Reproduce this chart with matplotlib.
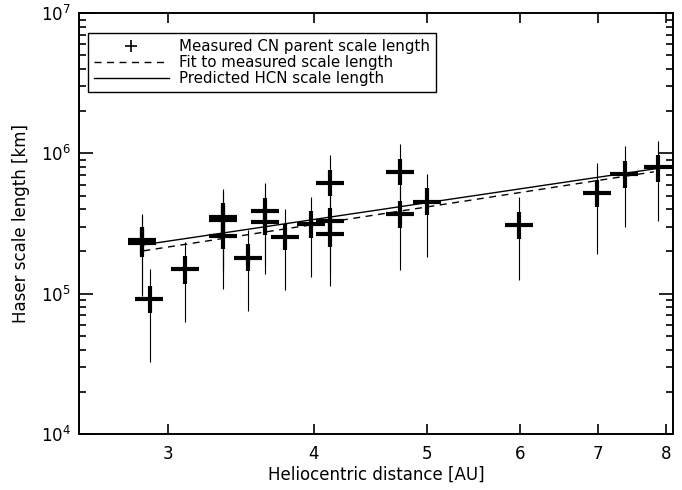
import matplotlib
matplotlib.use("Agg")
import matplotlib.pyplot as plt
import matplotlib.ticker as mticker
from matplotlib.lines import Line2D
import numpy as np

# heliocentric distance [AU] and Haser scale length [km]
r_au = [2.854, 2.854, 2.896, 3.104, 3.344, 3.344, 3.344, 3.513, 3.632, 3.632, 3.783,
        3.979, 4.130, 4.130, 4.130, 4.739, 4.739, 4.997, 5.99, 6.987, 7.373, 7.876]
scale_km = [2.40e5, 2.30e5, 9.1e4, 1.49e5, 3.52e5, 3.35e5, 2.57e5, 1.81e5, 3.88e5, 3.26e5, 2.55e5,
            3.15e5, 6.15e5, 3.29e5, 2.68e5, 7.37e5, 3.71e5, 4.51e5, 3.09e5, 5.23e5, 7.18e5, 7.96e5]
# outer (thin) error range
thin_lo = [1.0e5, 9.7e4, 3.26e4, 6.25e4, 1.5e5, 1.4e5, 1.08e5, 7.57e4, 1.6e5, 1.38e5, 1.07e5,
           1.31e5, 2.6e5, 1.4e5, 1.14e5, 3.1e5, 1.48e5, 1.83e5, 1.25e5, 1.93e5, 3.0e5, 3.30e5]
thin_hi = [3.71e5, 3.55e5, 1.50e5, 2.34e5, 5.56e5, 5.3e5, 4.0e5, 2.83e5, 6.13e5, 5.1e5, 3.99e5,
           4.90e5, 9.7e5, 5.2e5, 4.2e5, 1.16e6, 5.9e5, 7.13e5, 4.88e5, 8.49e5, 1.12e6, 1.23e6]
# inner (thick) error range
thick_lo = [1.92e5, 1.84e5, 7.3e4, 1.18e5, 2.82e5, 2.69e5, 2.08e5, 1.44e5, 3.1e5, 2.61e5, 2.04e5,
            2.51e5, 4.95e5, 2.64e5, 2.15e5, 5.93e5, 2.95e5, 3.61e5, 2.47e5, 4.16e5, 5.68e5, 6.26e5]
thick_hi = [2.99e5, 2.87e5, 1.14e5, 1.86e5, 4.42e5, 4.2e5, 3.2e5, 2.25e5, 4.82e5, 4.05e5, 3.15e5,
            3.88e5, 7.66e5, 4.09e5, 3.34e5, 9.16e5, 4.61e5, 5.62e5, 3.84e5, 6.50e5, 8.87e5, 9.68e5]
r_err_frac = 0.0275

# fitted and predicted scale length (power laws, straight on log-log axes)
fit_r = [2.86, 7.81]
fit_km = [2.02e5, 7.39e5]
pred_r = [2.86, 7.93]
pred_km = [2.23e5, 7.89e5]

r = np.array(r_au)
y = np.array(scale_km)

fig = plt.figure(figsize=(6.82, 4.90), dpi=100)
ax = fig.add_axes([0.1158, 0.1143, 0.871, 0.859])

ax.errorbar(r, y, yerr=[y - np.array(thin_lo), np.array(thin_hi) - y],
            fmt='none', ecolor='black', elinewidth=0.8, capsize=0)
ax.errorbar(r, y, yerr=[y - np.array(thick_lo), np.array(thick_hi) - y],
            fmt='none', ecolor='black', elinewidth=3, capsize=0)
ax.errorbar(r, y, xerr=r * r_err_frac,
            fmt='none', ecolor='black', elinewidth=3, capsize=0)

ax.plot(fit_r, fit_km, color='black', linestyle=(0, (5, 4)), linewidth=1)
ax.plot(pred_r, pred_km, color='black', linestyle='-', linewidth=1)

ax.set_xscale('log')
ax.set_yscale('log')
ax.set_xlim(2.52, 8.11)
ax.set_ylim(1e4, 1e7)

ax.xaxis.set_major_locator(mticker.FixedLocator([3, 4, 5, 6, 7, 8]))
ax.xaxis.set_major_formatter(mticker.FixedFormatter(['3', '4', '5', '6', '7', '8']))
ax.xaxis.set_minor_locator(mticker.NullLocator())
ax.yaxis.set_major_locator(mticker.LogLocator(base=10))
ax.yaxis.set_minor_locator(mticker.LogLocator(base=10, subs=np.arange(2, 10)))
ax.yaxis.set_minor_formatter(mticker.NullFormatter())

ax.tick_params(which='both', direction='in', top=True, right=True, labelsize=12, width=1.2)
ax.tick_params(which='major', axis='y', length=10, pad=6)
ax.tick_params(which='minor', axis='y', length=5)
ax.tick_params(which='major', axis='x', length=7, pad=8)
for s in ax.spines.values():
    s.set_linewidth(1.4)

ax.set_xlabel('Heliocentric distance [AU]', fontsize=12, labelpad=2)
ax.set_ylabel('Haser scale length [km]', fontsize=12, labelpad=8)

handles = [
    Line2D([], [], color='black', marker='+', linestyle='none', markersize=8, markeredgewidth=1.2),
    Line2D([], [], color='black', linestyle=(0, (5, 4)), linewidth=1),
    Line2D([], [], color='black', linestyle='-', linewidth=1),
]
labels = ['Measured CN parent scale length', 'Fit to measured scale length',
          'Predicted HCN scale length']
leg = ax.legend(handles, labels, loc='upper left', bbox_to_anchor=(0.015, 0.952),
                borderaxespad=0, fontsize=10.8, handlelength=5.0, handletextpad=0.7,
                labelspacing=0.05, fancybox=False, framealpha=1, edgecolor='black',
                borderpad=0.4)
leg.get_frame().set_linewidth(1)

fig.savefig('out.png', dpi=100)
